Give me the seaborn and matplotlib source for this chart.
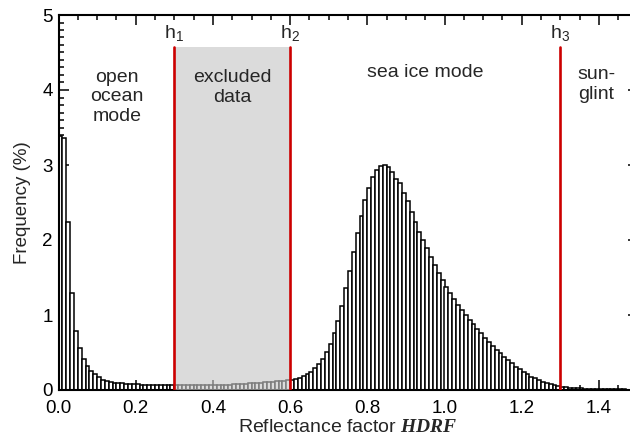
import numpy as np
import pandas as pd
import matplotlib
matplotlib.use("Agg")
import matplotlib.pyplot as plt
from matplotlib.ticker import MultipleLocator
import seaborn as sns

# ---- data (bin width 0.01, left edges 0.00 .. 1.49) ----
bin_width = 0.01
freq_open = [3.39, 3.36, 2.24, 1.29, 0.79, 0.56, 0.42, 0.32, 0.26, 0.21,
             0.17, 0.14, 0.12, 0.11, 0.10, 0.095, 0.09, 0.085, 0.08, 0.078,
             0.075, 0.072, 0.07, 0.068, 0.066, 0.065, 0.064, 0.063, 0.062, 0.062]
freq_excl = [0.062, 0.061, 0.061, 0.061, 0.061, 0.062, 0.062, 0.063, 0.064, 0.065,
             0.066, 0.067, 0.069, 0.071, 0.073, 0.075, 0.078, 0.081, 0.084, 0.087,
             0.091, 0.095, 0.099, 0.103, 0.107, 0.111, 0.116, 0.121, 0.125, 0.129]
freq_ice = [0.133, 0.147, 0.164, 0.187, 0.213, 0.245, 0.29, 0.347, 0.42, 0.51,
            0.62, 0.76, 0.92, 1.12, 1.36, 1.59, 1.84, 2.09, 2.32, 2.53,
            2.70, 2.84, 2.94, 2.99, 3.00, 2.98, 2.91, 2.82, 2.76, 2.63,
            2.52, 2.38, 2.24, 2.11, 2.00, 1.89, 1.78, 1.67, 1.56, 1.47,
            1.38, 1.30, 1.22, 1.14, 1.07, 1.00, 0.94, 0.88, 0.82, 0.76,
            0.70, 0.64, 0.59, 0.54, 0.49, 0.44, 0.40, 0.36, 0.31, 0.28,
            0.24, 0.21, 0.18, 0.16, 0.13, 0.11, 0.09, 0.076, 0.062, 0.052]
freq_glint = [0.044, 0.038, 0.033, 0.029, 0.025, 0.022, 0.019, 0.017, 0.015, 0.013,
              0.012, 0.011, 0.010, 0.009, 0.008, 0.007, 0.007, 0.006, 0.006, 0.005]

thresholds = [0.3, 0.6, 1.3]
threshold_labels = [r"h$_1$", r"h$_2$", r"h$_3$"]
region_labels = ["open\nocean\nmode", "excluded\ndata", "sea ice mode", "sun-\nglint"]
region_x = [0.152, 0.45, 0.95, 1.345]
region_y = [3.91, 4.03, 4.23, 4.07]
xticks = [0.0, 0.2, 0.4, 0.6, 0.8, 1.0, 1.2, 1.4]
yticks = [0, 1, 2, 3, 4, 5]

freq = np.array(freq_open + freq_excl + freq_ice + freq_glint)
nbins = len(freq)
centers = (np.arange(nbins) + 0.5) * bin_width
df = pd.DataFrame({"hdrf": centers, "freq": freq})

# ---- style ----
sns.set_style("ticks")
plt.rcParams["font.family"] = ["Liberation Sans", "DejaVu Sans"]
plt.rcParams["mathtext.fontset"] = "custom"
plt.rcParams["mathtext.rm"] = "Liberation Sans"
plt.rcParams["mathtext.it"] = "Liberation Sans:italic"
plt.rcParams["mathtext.bf"] = "Liberation Sans:bold"
plt.rcParams["mathtext.bfit"] = "Liberation Serif:italic:bold"

fig = plt.figure(figsize=(6.3, 4.41), dpi=100)
ax = fig.add_axes([58.5 / 630, 51 / 441, 579 / 630, 375 / 441])

sns.histplot(data=df, x="hdrf", weights="freq", binwidth=bin_width,
             binrange=(0, nbins * bin_width), stat="count",
             element="bars", fill=True, color="white", edgecolor="black",
             linewidth=1.1, alpha=1, ax=ax)

top_line = 4.58
ax.fill_between([thresholds[0], thresholds[1]], 0, top_line, color="#c6c6c6",
                alpha=0.63, linewidth=0, zorder=3)
for t, lab in zip(thresholds, threshold_labels):
    ax.plot([t, t], [0, top_line], color="#cc0000", lw=1.9, zorder=4)
    ax.text(t, 4.76, lab, ha="center", va="center", fontsize=14, zorder=5)

for lab, x, y in zip(region_labels, region_x, region_y):
    ha = "left" if lab.startswith("sun") else "center"
    ax.text(x, y, lab, ha=ha, va="center", fontsize=14, linespacing=1.2)

ax.set_xlim(0, 1.5)
ax.set_ylim(0, 5)
ax.set_xticks(xticks)
ax.set_xticklabels([f"{v:.1f}" for v in xticks])
ax.set_yticks(yticks)
ax.xaxis.set_minor_locator(MultipleLocator(0.05))
ax.yaxis.set_minor_locator(MultipleLocator(0.1))
ax.tick_params(which="both", direction="in", top=True, right=True,
               width=1.1, colors="black", labelsize=13.5)
ax.tick_params(which="major", length=7.2)
ax.tick_params(which="minor", length=3.6)
ax.tick_params(axis="x", which="major", pad=7)
ax.tick_params(axis="y", which="major", pad=4)
for s in ax.spines.values():
    s.set_linewidth(1.5)
    s.set_color("black")

ax.set_ylabel("Frequency (%)", fontsize=13.5, labelpad=8)
ax.set_xlabel(r"Reflectance factor $\mathbfit{HDRF}$", fontsize=14, labelpad=2)

fig.savefig("out.png", dpi=100)
